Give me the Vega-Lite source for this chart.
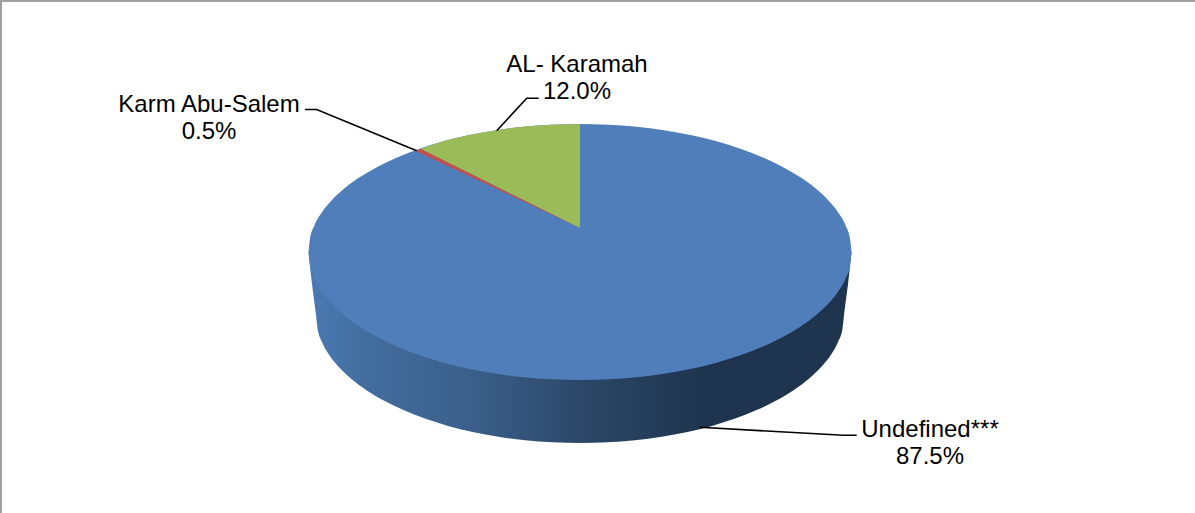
{
"$schema":"https://vega.github.io/schema/vega-lite/v6.json",
"width":1195,"height":513,"padding":0,
"autosize":{"type":"none"},
"background":"white",
"config":{"view":{"stroke":null},"text":{"font":"Liberation Sans"}},
"datasets":{
"side":[
{"x":308.5,"y":252,"y2":252},{"x":312,"y":252,"y2":284},{"x":316,"y":252,"y2":315},{"x":317.5,"y":252,"y2":328.4},{"x":321.8,"y":252,"y2":341.6},{"x":328.9,"y":252,"y2":354.6},{"x":338.8,"y":252,"y2":367.1},{"x":351.4,"y":252,"y2":379},{"x":366.4,"y":252,"y2":390.2},{"x":383.8,"y":252,"y2":400.6},{"x":403.4,"y":252,"y2":410.1},{"x":424.8,"y":252,"y2":418.6},{"x":448,"y":252,"y2":425.9},{"x":472.6,"y":252,"y2":431.9},{"x":498.4,"y":252,"y2":436.7},{"x":525.1,"y":252,"y2":440.2},{"x":552.4,"y":252,"y2":442.3},{"x":580,"y":252,"y2":443},{"x":607.6,"y":252,"y2":442.3},{"x":634.9,"y":252,"y2":440.2},{"x":661.6,"y":252,"y2":436.7},{"x":687.4,"y":252,"y2":431.9},{"x":712,"y":252,"y2":425.9},{"x":735.2,"y":252,"y2":418.6},{"x":756.6,"y":252,"y2":410.1},{"x":776.2,"y":252,"y2":400.6},{"x":793.6,"y":252,"y2":390.2},{"x":808.6,"y":252,"y2":379},{"x":821.2,"y":252,"y2":367.1},{"x":831.1,"y":252,"y2":354.6},{"x":838.2,"y":252,"y2":341.6},{"x":842.5,"y":252,"y2":328.4},{"x":844,"y":252,"y2":315},{"x":848,"y":252,"y2":284},{"x":851.5,"y":252,"y2":252}
],
"top":[
{"x":308.5,"y":252,"y2":252},{"x":310,"y":238.6,"y2":265.4},{"x":314.4,"y":225.4,"y2":278.6},{"x":321.8,"y":212.4,"y2":291.6},{"x":332,"y":199.9,"y2":304.1},{"x":344.9,"y":188,"y2":316},{"x":360.4,"y":176.8,"y2":327.2},{"x":378.2,"y":166.4,"y2":337.6},{"x":398.3,"y":156.9,"y2":347.1},{"x":420.4,"y":148.4,"y2":355.6},{"x":444.2,"y":141.1,"y2":362.9},{"x":469.6,"y":135.1,"y2":368.9},{"x":496.1,"y":130.3,"y2":373.7},{"x":523.6,"y":126.8,"y2":377.2},{"x":551.6,"y":124.7,"y2":379.3},{"x":580,"y":124,"y2":380},{"x":608.4,"y":124.7,"y2":379.3},{"x":636.4,"y":126.8,"y2":377.2},{"x":663.9,"y":130.3,"y2":373.7},{"x":690.4,"y":135.1,"y2":368.9},{"x":715.8,"y":141.1,"y2":362.9},{"x":739.6,"y":148.4,"y2":355.6},{"x":761.7,"y":156.9,"y2":347.1},{"x":781.8,"y":166.4,"y2":337.6},{"x":799.6,"y":176.8,"y2":327.2},{"x":815.1,"y":188,"y2":316},{"x":828,"y":199.9,"y2":304.1},{"x":838.2,"y":212.4,"y2":291.6},{"x":845.6,"y":225.4,"y2":278.6},{"x":850,"y":238.6,"y2":265.4},{"x":851.5,"y":252,"y2":252}
],
"green":[
{"x":421,"y":148.8,"y2":149.5},{"x":444.2,"y":141.1,"y2":161},{"x":469.6,"y":135.1,"y2":173.5},{"x":496.1,"y":130.3,"y2":186.6},{"x":523.6,"y":126.8,"y2":200.2},{"x":551.6,"y":124.7,"y2":214},{"x":580,"y":124,"y2":228}
],
"red":[
{"x":416,"y":150.5,"y2":151},{"x":421,"y":149,"y2":153.4},{"x":500,"y":188.5,"y2":190.4},{"x":580,"y":228,"y2":228}
],
"leaders":[
{"label":"Karm Abu-Salem","order":1,"x":305,"y":109.5},{"label":"Karm Abu-Salem","order":2,"x":316.7,"y":109.5},{"label":"Karm Abu-Salem","order":3,"x":416.7,"y":150.7},
{"label":"AL- Karamah","order":1,"x":538.7,"y":98.3},{"label":"AL- Karamah","order":2,"x":526.7,"y":98.3},{"label":"AL- Karamah","order":3,"x":496.7,"y":130.7},
{"label":"Undefined***","order":1,"x":856.7,"y":435.3},{"label":"Undefined***","order":2,"x":843.3,"y":435.3},{"label":"Undefined***","order":3,"x":700,"y":427.3}
],
"border":[
{"order":1,"x":1,"y":513},{"order":2,"x":1,"y":1},{"order":3,"x":1195,"y":1}
],
"labels":[
{"x":577,"y":64.5,"text":"AL- Karamah"},{"x":577,"y":92,"text":"12.0%"},
{"x":209,"y":104.5,"text":"Karm Abu-Salem"},{"x":209,"y":132,"text":"0.5%"},
{"x":930,"y":429.5,"text":"Undefined***"},{"x":930,"y":457,"text":"87.5%"}
]
},
"encoding":{
"x":{"field":"x","type":"quantitative","axis":null,"scale":{"domain":[0,1195],"nice":false,"zero":false}},
"y":{"field":"y","type":"quantitative","axis":null,"scale":{"domain":[513,0],"nice":false,"zero":false}}
},
"layer":[
{"data":{"name":"border"},"mark":{"type":"line","stroke":"#a0a0a0","strokeWidth":2,"clip":false},"encoding":{"order":{"field":"order","type":"ordinal"}}},
{"data":{"name":"side"},"mark":{"type":"area","interpolate":"monotone","fill":{"gradient":"linear","x1":0,"y1":0,"x2":1,"y2":0,"stops":[{"offset":0,"color":"#4a7ab3"},{"offset":0.1,"color":"#436e9f"},{"offset":0.3,"color":"#3b5f8a"},{"offset":0.5,"color":"#2c4868"},{"offset":0.72,"color":"#1f354f"},{"offset":1,"color":"#1f344e"}]}},"encoding":{"y2":{"field":"y2"}}},
{"data":{"name":"top"},"mark":{"type":"area","interpolate":"monotone","fill":"#4f7ebb"},"encoding":{"y2":{"field":"y2"}}},
{"data":{"name":"green"},"mark":{"type":"area","interpolate":"monotone","fill":"#9bbb59"},"encoding":{"y2":{"field":"y2"}}},
{"data":{"name":"red"},"mark":{"type":"area","fill":"#c0504d"},"encoding":{"y2":{"field":"y2"}}},
{"data":{"name":"leaders"},"mark":{"type":"line","stroke":"#000000","strokeWidth":1.6},"encoding":{"detail":{"field":"label"},"order":{"field":"order","type":"ordinal"}}},
{"data":{"name":"labels"},"mark":{"type":"text","font":"Liberation Sans","fontSize":24,"color":"#000000","align":"center","baseline":"middle"},"encoding":{"text":{"field":"text"}}}
]
}
